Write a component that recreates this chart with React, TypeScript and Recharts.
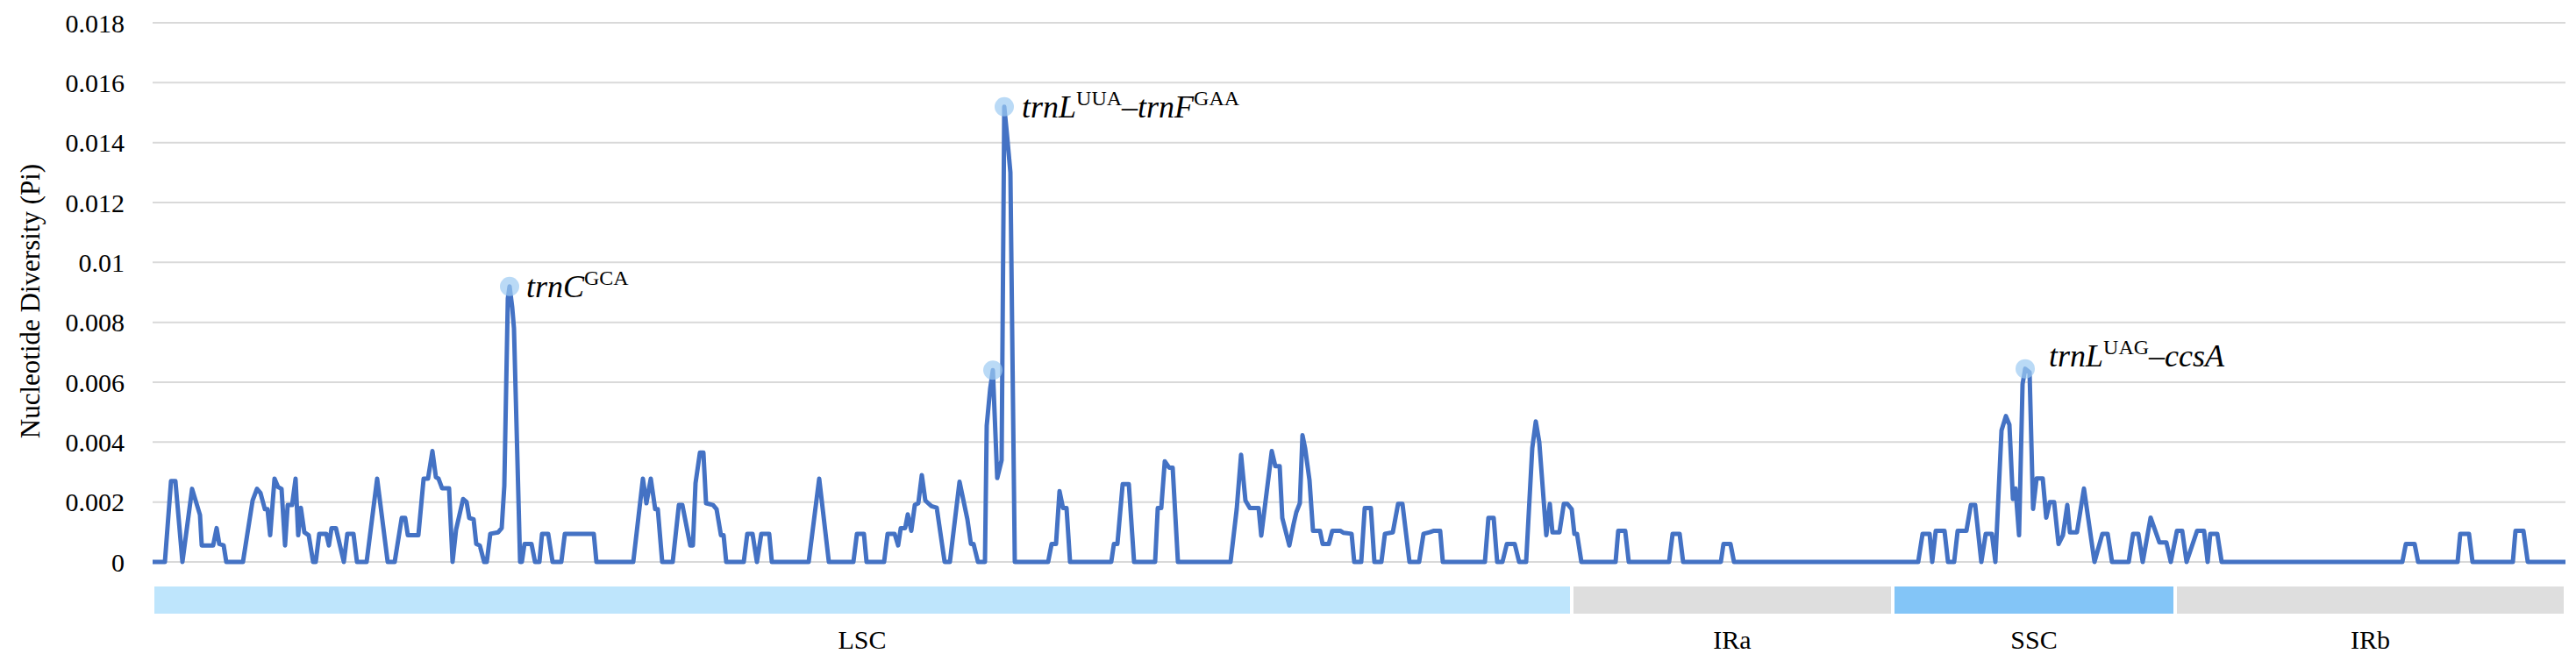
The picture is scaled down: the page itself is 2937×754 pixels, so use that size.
import React from "react";
import {
  Bar,
  BarChart,
  CartesianGrid,
  Line,
  LineChart,
  ReferenceDot,
  XAxis,
  YAxis,
} from "recharts";

// sliding-window position (plot units) and nucleotide diversity
const pos = [
  0, 14, 21, 26, 34, 45, 54, 56, 69, 73,
  76, 81, 84, 103, 114, 119, 123, 128, 131, 134,
  139, 143, 147, 151, 154, 159, 163, 166, 169, 173,
  178, 183, 186, 190, 198, 201, 204, 209, 218, 222,
  229, 233, 244, 256, 268, 276, 284, 288, 291, 303,
  309, 314, 319, 323, 326, 330, 338, 342, 346, 354,
  358, 361, 366, 369, 373, 378, 381, 385, 394, 398,
  401, 405, 407, 410, 412, 419, 421, 424, 432, 436,
  441, 444, 451, 456, 466, 470, 503, 506, 548, 559,
  563, 568, 573, 576, 581, 593, 600, 604, 613, 616,
  619, 624, 628, 631, 639, 643, 648, 651, 654, 674,
  678, 684, 689, 694, 703, 706, 748, 760, 771, 799,
  803, 811, 814, 834, 838, 846, 850, 853, 858, 861,
  865, 869, 873, 877, 881, 888, 894, 903, 909, 920,
  929, 933, 936, 941, 949, 951, 955, 958, 963, 968,
  971, 974, 978, 983, 1021, 1025, 1030, 1034, 1038, 1042,
  1046, 1093, 1096, 1100, 1106, 1113, 1119, 1143, 1146, 1150,
  1154, 1159, 1163, 1169, 1229, 1236, 1241, 1246, 1251, 1261,
  1264, 1276, 1280, 1285, 1288, 1296, 1301, 1304, 1308, 1311,
  1314, 1319, 1323, 1331, 1334, 1341, 1345, 1354, 1358, 1367,
  1370, 1378, 1382, 1389, 1393, 1401, 1405, 1414, 1420, 1425,
  1433, 1444, 1449, 1456, 1461, 1468, 1471, 1519, 1523, 1529,
  1533, 1539, 1544, 1553, 1558, 1566, 1573, 1577, 1581, 1589,
  1593, 1596, 1604, 1609, 1613, 1618, 1621, 1624, 1629, 1668,
  1671, 1679, 1683, 1729, 1733, 1741, 1745, 1788, 1791, 1799,
  1803, 2013, 2018, 2026, 2029, 2033, 2043, 2047, 2054, 2058,
  2068, 2073, 2078, 2085, 2090, 2097, 2101, 2108, 2113, 2117,
  2121, 2124, 2128, 2132, 2135, 2140, 2144, 2148, 2155, 2159,
  2163, 2168, 2173, 2178, 2183, 2186, 2194, 2202, 2214, 2223,
  2229, 2234, 2253, 2258, 2264, 2269, 2278, 2288, 2296, 2301,
  2308, 2314, 2319, 2331, 2339, 2343, 2346, 2354, 2359, 2565,
  2569, 2579, 2583, 2628, 2631, 2641, 2645, 2691, 2694, 2703,
  2708, 2751,
];

const pi = [
  0, 0, 0.0027, 0.0027, 0, 0.00244, 0.00157, 0.00055, 0.00055, 0.00113,
  0.0006, 0.00055, 0, 0, 0.00205, 0.00244, 0.0023, 0.00176, 0.00176, 0.00089,
  0.00278, 0.0025, 0.00244, 0.00055, 0.0019, 0.0019, 0.00278, 0.00089, 0.00181, 0.00099,
  0.00089, 0, 0, 0.00094, 0.00094, 0.00055, 0.00113, 0.00113, 0, 0.00094,
  0.00094, 0, 0, 0.00278, 0, 0, 0.00147, 0.00147, 0.00089, 0.00089,
  0.00278, 0.00278, 0.0037, 0.00283, 0.00278, 0.00246, 0.00246, 0, 0.00108, 0.0021,
  0.002, 0.00147, 0.00142, 0.0006, 0.00055, 0, 0, 0.00094, 0.00099, 0.00113,
  0.00254, 0.0088, 0.0092, 0.0085, 0.0078, 0, 0, 0.0006, 0.0006, 0,
  0, 0.00094, 0.00094, 0, 0, 0.00094, 0.00094, 0, 0, 0.00278,
  0.00196, 0.00278, 0.00176, 0.00176, 0, 0, 0.0019, 0.0019, 0.00055, 0.00055,
  0.00263, 0.00365, 0.00365, 0.00196, 0.0019, 0.00176, 0.00089, 0.00089, 0, 0,
  0.00094, 0.00094, 0, 0.00094, 0.00094, 0, 0, 0.00278, 0, 0,
  0.00094, 0.00094, 0, 0, 0.00094, 0.00094, 0.00055, 0.00113, 0.00113, 0.00159,
  0.00104, 0.0019, 0.00196, 0.0029, 0.00205, 0.00186, 0.00181, 0, 0, 0.00268,
  0.00142, 0.0006, 0.0006, 0, 0, 0.00455, 0.0058, 0.0064, 0.0028, 0.0034,
  0.0152, 0.0143, 0.013, 0, 0, 0.0006, 0.0006, 0.00236, 0.0018, 0.0018,
  0, 0, 0.0006, 0.0006, 0.0026, 0.0026, 0, 0, 0.0018, 0.0018,
  0.00336, 0.00315, 0.00315, 0, 0, 0.00176, 0.00358, 0.00205, 0.0018, 0.0018,
  0.00088, 0.0037, 0.0032, 0.0032, 0.00147, 0.00055, 0.00128, 0.00166, 0.00196, 0.00423,
  0.0038, 0.00273, 0.00104, 0.00104, 0.0006, 0.0006, 0.00104, 0.00104, 0.00097, 0.00094,
  0, 0, 0.0018, 0.0018, 0, 0, 0.00094, 0.00099, 0.00194, 0.00194,
  0, 0, 0.00094, 0.00099, 0.00104, 0.00104, 0, 0, 0.00147, 0.00147,
  0, 0, 0.0006, 0.0006, 0, 0, 0.0038, 0.00469, 0.004, 0.00089,
  0.00194, 0.00099, 0.00099, 0.00194, 0.00194, 0.00176, 0.00094, 0.00094, 0, 0,
  0.00104, 0.00104, 0, 0, 0.00094, 0.00094, 0, 0, 0.0006, 0.0006,
  0, 0, 0.00094, 0.00094, 0, 0.00104, 0.00104, 0, 0, 0.00104,
  0.00104, 0.0019, 0.0019, 0, 0.00094, 0.00094, 0, 0.00439, 0.00487, 0.00458,
  0.0021, 0.00245, 0.00089, 0.00594, 0.00645, 0.00633, 0.00177, 0.00279, 0.00279, 0.00148,
  0.002, 0.002, 0.0006, 0.00089, 0.0019, 0.00099, 0.00099, 0.00245, 0, 0.00094,
  0.00094, 0, 0, 0.00094, 0.00094, 0, 0.00148, 0.00065, 0.00065, 0,
  0.00104, 0.00104, 0, 0.00104, 0.00104, 0, 0.00094, 0.00094, 0, 0,
  0.0006, 0.0006, 0, 0, 0.00094, 0.00094, 0, 0, 0.00104, 0.00104,
  0, 0,
];

const yTicks = [0, 0.002, 0.004, 0.006, 0.008, 0.01, 0.012, 0.014, 0.016, 0.018];

// genome regions along the same axis
const regionNames = ["LSC", "IRa", "SSC", "IRb"];
const regionLengths = [1618, 366, 322, 445];
const regionColors = ["#BEE5FC", "#DEDEDE", "#83C5F7", "#DEDEDE"];

// highlighted peaks
const peakPos = [407, 958, 971, 2135];
const peakPi = [0.0092, 0.0064, 0.0152, 0.00645];
type Part = { t: string; i?: boolean; sup?: boolean };
const peakText: (Part[] | null)[] = [
  [{ t: "trnC", i: true }, { t: "GCA", sup: true }],
  null,
  [
    { t: "trnL", i: true },
    { t: "UUA", sup: true },
    { t: "–" },
    { t: "trnF", i: true },
    { t: "GAA", sup: true },
  ],
  [
    { t: "trnL", i: true },
    { t: "UAG", sup: true },
    { t: "–" },
    { t: "ccsA", i: true },
  ],
];
const peakShift = [
  [8, 12],
  [0, 0],
  [9, 12],
  [16, -3],
];

const data = pos.map((p, i) => ({ pos: p, pi: pi[i] }));
const total = regionLengths.reduce((a, b) => a + b, 0);
const regionRow = [
  regionNames.reduce(
    (row, n, i) => ({ ...row, [n]: regionLengths[i] }),
    { name: "genome" } as Record<string, number | string>
  ),
];
const regionCenters = regionLengths.map(
  (l, i) => regionLengths.slice(0, i).reduce((a, b) => a + b, 0) + l / 2
);

const FONT = "Liberation Serif, Times New Roman, serif";

function PeakLabel({ viewBox, parts, dx, dy }: any) {
  const x = viewBox.x + viewBox.width + dx;
  const y = viewBox.y + viewBox.height / 2 + dy;
  let raised = false;
  return (
    <text x={x} y={y} fontSize={36} fill="#000" style={{ fontFamily: FONT }}>
      {parts.map((p: Part, k: number) => {
        let shift = 0;
        if (p.sup && !raised) {
          shift = -14;
          raised = true;
        } else if (!p.sup && raised) {
          shift = 14;
          raised = false;
        }
        return (
          <tspan
            key={k}
            dy={shift}
            fontSize={p.sup ? 24 : 36}
            fontStyle={p.i ? "italic" : "normal"}
          >
            {p.t}
          </tspan>
        );
      })}
    </text>
  );
}

export default function App() {
  return (
    <div
      style={{
        position: "absolute",
        left: 0,
        top: 0,
        width: 2937,
        height: 754,
        overflow: "hidden",
        background: "#fff",
        fontFamily: FONT,
      }}
    >
      <div style={{ position: "absolute", left: 0, top: 648 }}>
        <BarChart
          width={2937}
          height={106}
          data={regionRow}
          layout="vertical"
          barCategoryGap={0}
          margin={{ top: 19, right: 12, bottom: 0, left: 174 }}
          style={{ fontFamily: FONT }}
        >
          <XAxis
            type="number"
            domain={[0, total]}
            ticks={regionCenters}
            interval={0}
            tickFormatter={(_v: number, i: number) => regionNames[i]}
            axisLine={false}
            tickLine={false}
            tickSize={0}
            tickMargin={17}
            height={52}
            tick={{ fontSize: 30, fill: "#000", style: { fontFamily: FONT } }}
          />
          <YAxis type="category" dataKey="name" hide />
          {regionNames.map((n, i) => (
            <Bar
              key={n}
              dataKey={n}
              stackId="g"
              fill={regionColors[i]}
              stroke="#fff"
              strokeWidth={4}
              isAnimationActive={false}
            />
          ))}
        </BarChart>
      </div>
      <div style={{ position: "absolute", left: 0, top: 0 }}>
        <LineChart
          width={2937}
          height={664}
          data={data}
          margin={{ top: 26, right: 12, bottom: 23, left: 0 }}
          style={{ fontFamily: FONT }}
        >
          <CartesianGrid stroke="#D9D9D9" strokeWidth={2} vertical={false} />
          <XAxis dataKey="pos" type="number" domain={[0, total]} hide />
          <YAxis
            domain={[0, 0.018]}
            ticks={yTicks}
            interval={0}
            width={174}
            axisLine={false}
            tickLine={false}
            tickSize={0}
            tickMargin={32}
            tick={{ fontSize: 30, fill: "#000", style: { fontFamily: FONT } }}
            label={(props: any) => (
              <text
                x={props.viewBox.x + 34}
                y={props.viewBox.y + props.viewBox.height / 2 + 10}
                transform={`rotate(-90 ${props.viewBox.x + 34} ${
                  props.viewBox.y + props.viewBox.height / 2 + 10
                })`}
                textAnchor="middle"
                dominantBaseline="central"
                fontSize={31}
                fill="#000"
                style={{ fontFamily: FONT }}
              >
                Nucleotide Diversity (Pi)
              </text>
            )}
          />
          <Line
            type="linear"
            dataKey="pi"
            stroke="#4472C4"
            strokeWidth={5}
            strokeLinejoin="round"
            dot={false}
            isAnimationActive={false}
          />
          {peakPos.map((p, i) => (
            <ReferenceDot
              key={i}
              x={p}
              y={peakPi[i]}
              r={11}
              fill="#9DCBF2"
              fillOpacity={0.7}
              stroke="none"
              label={
                peakText[i]
                  ? (props: any) => (
                      <PeakLabel
                        viewBox={props.viewBox}
                        parts={peakText[i]}
                        dx={peakShift[i][0]}
                        dy={peakShift[i][1]}
                      />
                    )
                  : undefined
              }
            />
          ))}
        </LineChart>
      </div>
    </div>
  );
}
